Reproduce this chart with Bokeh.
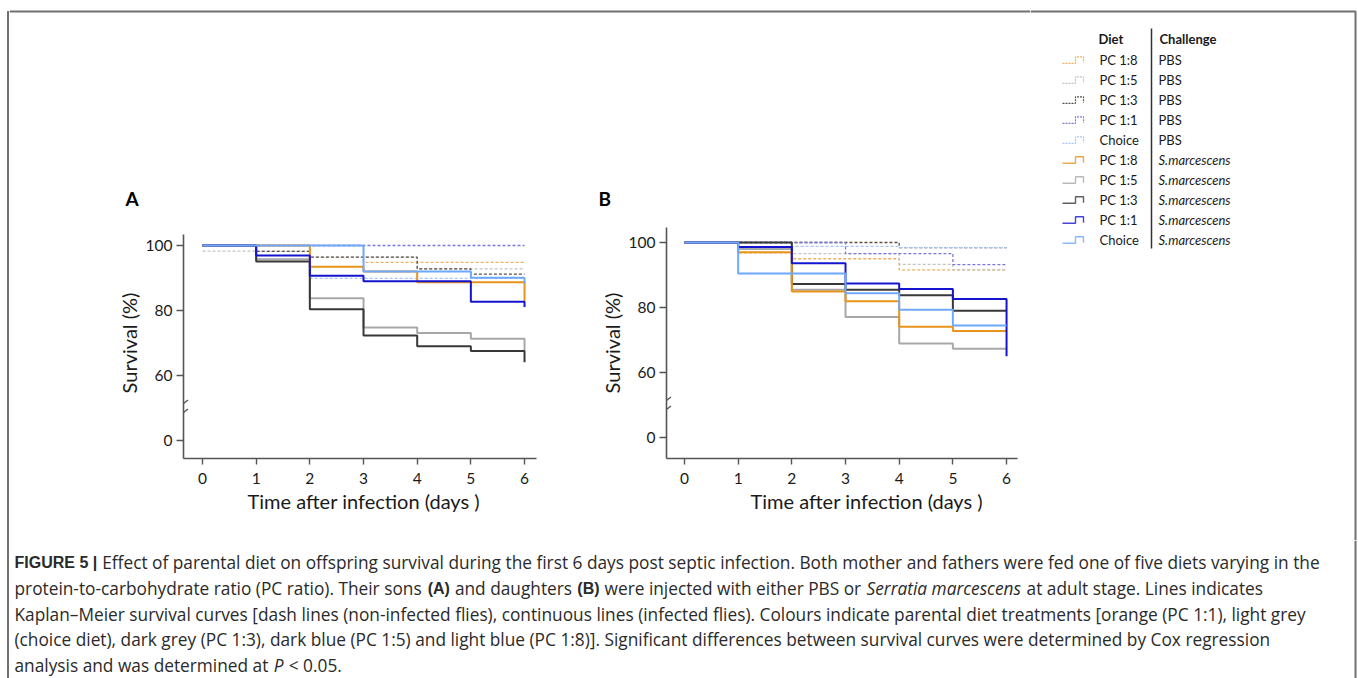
from bokeh.plotting import figure
from bokeh.models import Range1d, FixedTicker, Arrow, Title, Spacer
from bokeh.layouts import row, column
from bokeh.embed import file_html
from bokeh.resources import INLINE
from bokeh.core.properties import value

# ---------------- data ----------------
days = [0, 1, 2, 3, 4, 5, 6]
diets = ["PC 1:8", "PC 1:5", "PC 1:3", "PC 1:1", "Choice"]
challenges = ["PBS", "S.marcescens"]
y_ticks = [40, 60, 80, 100]
y_tick_labels = ["0", "60", "80", "100"]

# Panel A (sons): survival (%) at each day, PBS (dashed)
a_pbs = {
    "PC 1:8": [100, 100, 100, 94.8, 94.8, 94.8, 94.8],
    "PC 1:5": [98.3, 98.3, 96.4, 96.4, 92.8, 92.8, 92.8],
    "PC 1:3": [100, 98.2, 96.4, 96.4, 92.8, 91.2, 91.2],
    "PC 1:1": [100, 100, 100, 100, 100, 100, 100],
    "Choice": [100, 100, 89.9, 89.9, 89.9, 89.9, 89.9],
}
# Panel A (sons): S. marcescens (solid)
a_inf = {
    "PC 1:8": [100, 100, 93.5, 92.0, 88.7, 88.7, 82.9],
    "PC 1:5": [100, 95.8, 83.8, 74.8, 73.1, 71.3, 67.8],
    "PC 1:3": [100, 95.1, 80.4, 72.3, 69.0, 67.5, 64.1],
    "PC 1:1": [100, 96.9, 90.7, 89.0, 89.0, 82.7, 81.1],
    "Choice": [100, 100, 100, 92.0, 92.0, 90.1, 88.4],
}
# Panel B (daughters): PBS (dashed)
b_pbs = {
    "PC 1:8": [100, 96.8, 95.0, 95.0, 91.6, 91.6, 91.6],
    "PC 1:5": [100, 100, 96.6, 96.6, 93.3, 91.6, 91.6],
    "PC 1:3": [100, 100, 100, 100, 98.4, 98.4, 98.4],
    "PC 1:1": [100, 100, 100, 96.6, 96.6, 93.2, 93.2],
    "Choice": [100, 100, 98.8, 98.8, 98.4, 98.4, 98.4],
}
# Panel B (daughters): S. marcescens (solid)
b_inf = {
    "PC 1:8": [100, 97.0, 84.9, 81.9, 74.1, 72.8, 72.8],
    "PC 1:5": [100, 98.0, 85.5, 77.1, 68.9, 67.3, 67.3],
    "PC 1:3": [100, 100, 87.2, 85.5, 83.8, 79.0, 79.0],
    "PC 1:1": [100, 98.6, 93.6, 87.4, 85.7, 82.6, 65.0],
    "Choice": [100, 90.5, 90.5, 84.4, 79.3, 74.5, 74.5],
}

# caption: one list of (text, style) segments per line
caption_lines = [
    [("FIGURE 5 |", "bold"),
     ("Effect of parental diet on offspring survival during the first 6 days post septic infection. Both mother and fathers were fed one of five diets varying in the", "normal")],
    [("protein-to-carbohydrate ratio (PC ratio). Their sons", "normal"), ("(A)", "bold"),
     ("and daughters", "normal"), ("(B)", "bold"), ("were injected with either PBS or", "normal"),
     ("Serratia marcescens", "italic"), ("at adult stage. Lines indicates", "normal")],
    [("Kaplan\u2013Meier survival curves [dash lines (non-infected flies), continuous lines (infected flies). Colours indicate parental diet treatments [orange (PC 1:1), light grey", "normal")],
    [("(choice diet), dark grey (PC 1:3), dark blue (PC 1:5) and light blue (PC 1:8)]. Significant differences between survival curves were determined by Cox regression", "normal")],
    [("analysis and was determined at", "normal"), ("P", "italic"), ("< 0.05.", "normal")],
]

solid_colors = {"PC 1:8": "#E8931A", "PC 1:5": "#A8A8A8", "PC 1:3": "#383838",
                "PC 1:1": "#1414D0", "Choice": "#6FA8FF"}
dash_colors = {"PC 1:8": "#F0B060", "PC 1:5": "#C4C4C4", "PC 1:3": "#5A5048",
               "PC 1:1": "#7A7ADE", "Choice": "#A6C6FF"}
draw_order = ["PC 1:5", "PC 1:3", "PC 1:8", "PC 1:1", "Choice"]

FONT = "Lato"
FRAME_C = "#707070"
AXIS_C = "#555555"
TXT_C = "#1a1a1a"
CAP_FONT, CAP_SIZE = "Open Sans", 17.3
CAP_BOLD_FONT, CAP_BOLD_SIZE = "Liberation Sans", 16.0

# approximate advance widths (em) used to chain caption segments
_os = {' ': .260, '(': .297, ')': .297, '[': .303, ']': .303, '-': .322, '\u2013': .5,
       '.': .266, ',': .245, ':': .266, '<': .572,
       'A': .633, 'B': .648, 'C': .631, 'E': .556, 'K': .593, 'L': .540, 'M': .887,
       'P': .607, 'S': .547, 'T': .571,
       'a': .556, 'b': .613, 'c': .476, 'd': .613, 'e': .561, 'f': .339, 'g': .548,
       'h': .614, 'i': .253, 'j': .253, 'k': .525, 'l': .253, 'm': .930, 'n': .614,
       'o': .604, 'p': .613, 'q': .613, 'r': .408, 's': .477, 't': .353, 'u': .614,
       'v': .501, 'w': .778, 'x': .524, 'y': .502, 'z': .477}
_ab = {' ': .278, '(': .333, ')': .333, '|': .280, 'A': .722, 'B': .722, 'F': .611,
       'I': .278, 'G': .778, 'U': .722, 'R': .722, 'E': .667}


def seg_width(text, style):
    if style == "bold":
        return sum(_ab.get(c, .556) for c in text) * CAP_BOLD_SIZE
    w = sum(_os.get(c, .572) for c in text) * CAP_SIZE
    return w * (0.95 if style == "italic" else 1.0)


def pixel_fig(w, h, x0, y0):
    p = figure(width=w, height=h, x_range=Range1d(x0, x0 + w), y_range=Range1d(y0 + h, y0),
               output_backend="svg", toolbar_location=None, min_border=0,
               x_axis_location=None, y_axis_location=None)
    p.grid.visible = False
    p.outline_line_color = None
    p.background_fill_color = "white"
    p.border_fill_color = "white"
    return p


def panel(w, mb_l, mb_r, xr, yr, ybounds, pbs, inf, letter, letter_off, xlab_off, xlab_standoff):
    p = figure(width=w, height=510, x_range=Range1d(*xr), y_range=Range1d(*yr),
               output_backend="svg", toolbar_location=None,
               min_border_left=mb_l, min_border_right=mb_r,
               min_border_top=197, min_border_bottom=82)
    p.grid.visible = False
    p.outline_line_color = None
    for d in ["PC 1:8", "PC 1:5", "PC 1:3", "Choice", "PC 1:1"]:
        p.step(x=days, y=pbs[d], mode="after", line_color=dash_colors[d],
               line_width=1.3, line_dash="3 2")
    for d in draw_order:
        p.step(x=days, y=inf[d], mode="after", line_color=solid_colors[d], line_width=2)
    p.xaxis.ticker = FixedTicker(ticks=days)
    p.yaxis.ticker = FixedTicker(ticks=y_ticks)
    p.yaxis.major_label_overrides = dict(zip(y_ticks, y_tick_labels))
    if ybounds is not None:
        p.yaxis.bounds = ybounds
    for ax in (p.xaxis[0], p.yaxis[0]):
        ax.axis_line_color = AXIS_C
        ax.axis_line_width = 1.6
        ax.major_tick_line_color = AXIS_C
        ax.major_tick_line_width = 1.4
        ax.major_tick_in = 0
        ax.minor_tick_line_color = None
        ax.major_label_text_font = FONT
        ax.major_label_text_font_size = "15.5px"
        ax.major_label_text_color = TXT_C
        ax.axis_label_text_font = FONT
        ax.axis_label_text_font_style = "normal"
        ax.axis_label_text_font_size = "20px"
        ax.axis_label_text_color = TXT_C
    p.xaxis.major_tick_out = 6
    p.xaxis.major_label_standoff = 8
    p.yaxis.major_tick_out = 7
    p.yaxis.major_label_standoff = 4
    p.yaxis.axis_label = "Survival (%)"
    p.yaxis.axis_label_standoff = 2
    p.add_layout(Title(text=letter, align="left", offset=letter_off, standoff=36,
                       text_font=FONT, text_font_size="19px", text_font_style="bold",
                       text_color="black"), "above")
    p.add_layout(Title(text="Time after infection (days )", align="left", offset=xlab_off,
                       standoff=xlab_standoff, text_font=FONT, text_font_size="20px",
                       text_font_style="normal", text_color=TXT_C), "below")
    # axis break marks
    x0 = xr[0]
    dx = (xr[1] - xr[0]) / (w - mb_l - mb_r) * 4.5
    dy = (yr[1] - yr[0]) / 231 * 3.5
    for off in (-1.4, 1.4):
        p.add_layout(Arrow(end=None, x_start=x0 - dx, y_start=50 - dy + off,
                           x_end=x0 + dx, y_end=50 + dy + off,
                           line_color=AXIS_C, line_width=1.3))
    return p


LX = 9  # content starts right of the left frame line
figA = panel(580 - LX, 183 - LX, 44, (-0.354, 6.223), (34.46, 105.54), (34.46, 103.38),
             a_pbs, a_inf, "A", -58, 64, 0)
figB = panel(450, 86, 13, (-0.335, 6.204), (33.54, 104.62), None,
             b_pbs, b_inf, "B", -68, 84, 1)

# top frame line
top = pixel_fig(1030 - LX, 30, LX, 0)
top.line(x=[LX, 1030], y=[11, 11], line_color=FRAME_C, line_width=2)

# right part with legend
right = pixel_fig(328, 540, 1030, 0)
right.line(x=[1030, 1355, 1355], y=[11, 11, 540], line_color=FRAME_C, line_width=2)
right.text(x=[1098, 1159], y=[38, 38], text=["Diet", "Challenge"], text_font=value(FONT),
           text_font_size="13px", text_font_style="bold", text_color=TXT_C,
           text_baseline="middle", text_align="left")
right.line(x=[1151, 1151], y=[28, 248], line_color="#333333", line_width=1.5)
row_y = [59.3 + 20 * i for i in range(10)]
rows = [(d, challenges[0]) for d in diets] + [(d, challenges[1]) for d in diets]
for (d, ch), yy in zip(rows, row_y):
    pbs_row = ch == "PBS"
    right.line(x=[1062, 1075, 1075, 1083, 1083], y=[yy + 3.5, yy + 3.5, yy - 3, yy - 3, yy + 3],
               line_color=dash_colors[d] if pbs_row else solid_colors[d],
               line_width=1.2 if pbs_row else 1.4, line_dash="2 1" if pbs_row else "solid",
               line_alpha=1 if pbs_row else 0.8)
right.text(x=[1099] * 10, y=row_y, text=[r[0] for r in rows], text_font=value(FONT),
           text_font_size="13px", text_color=TXT_C, text_baseline="middle")
right.text(x=[1158] * 5, y=row_y[:5], text=[r[1] for r in rows[:5]], text_font=value(FONT),
           text_font_size="13px", text_color=TXT_C, text_baseline="middle")
right.text(x=[1158] * 5, y=row_y[5:], text=[r[1] for r in rows[5:]], text_font=value(FONT),
           text_font_size="13px", text_font_style="italic", text_color=TXT_C,
           text_baseline="middle")

# caption
cap = pixel_fig(1358 - LX, 138, LX, 540)
cap.line(x=[1355, 1355], y=[540, 678], line_color=FRAME_C, line_width=2)
space = _os[' '] * CAP_SIZE
segs = {"normal": [], "bold": [], "italic": []}
for i, line in enumerate(caption_lines):
    yy = 562 + 25.8 * i
    xx = 14
    for text, style in line:
        segs[style].append((xx, yy, text))
        xx += seg_width(text, style) + space + 0.5
for style, font, size in (("normal", CAP_FONT, CAP_SIZE), ("bold", CAP_BOLD_FONT, CAP_BOLD_SIZE),
                          ("italic", CAP_FONT, CAP_SIZE)):
    items = segs[style]
    cap.text(x=[i[0] for i in items], y=[i[1] for i in items], text=[i[2] for i in items],
             text_font=value(font), text_font_size=f"{size}px",
             text_font_style=style, text_color="#2a2a2a", text_baseline="middle")

left_frame = column(Spacer(width=2, height=11),
                    Spacer(width=2, height=667, styles={"background-color": FRAME_C}))
layout = row(
    Spacer(width=7, height=678),
    left_frame,
    column(
        row(column(top, row(figA, figB)), right),
        cap,
    ),
)

open("out.html", "w").write(file_html(layout, INLINE))
